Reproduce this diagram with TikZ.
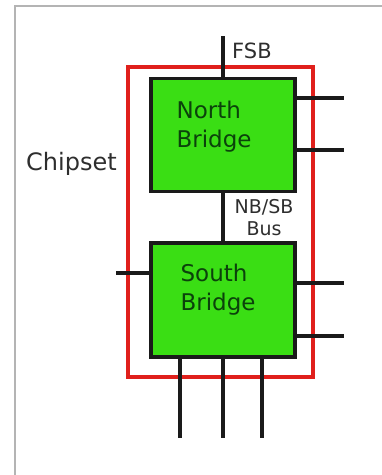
\documentclass[tikz,border=0pt]{standalone}
\usepackage{fontspec}
\setmainfont{DejaVu Sans}
\usepackage{tikz}
\usetikzlibrary{positioning}
\definecolor{chipred}{HTML}{E0201C}
\definecolor{bridgegreen}{HTML}{3ADE14}
\definecolor{bridgetext}{HTML}{0B420B}
\definecolor{wiregray}{HTML}{1A1A1A}
\definecolor{labelgray}{HTML}{2E2E2E}
\definecolor{framegray}{HTML}{B4B4B4}
\tikzset{
  bridgebox/.style={
    draw=wiregray, fill=bridgegreen, rectangle, line width=3.2pt,
    minimum width=144pt, minimum height=113pt, inner sep=0pt
  },
  bridgelabel/.style={
    align=left, inner sep=0pt, text=bridgetext,
    font=\fontsize{23}{29}\selectfont
  },
  chipbox/.style={
    draw=chipred, line width=3.4pt, rectangle, inner sep=0pt
  },
  wire/.style={line width=3.2pt, color=wiregray},
  buslabel/.style={text=labelgray, inner sep=0pt}
}

\begin{document}
\begin{tikzpicture}[x=1pt, y=-1pt]
\useasboundingbox (0,0) rectangle (382,475);
\draw[framegray, line width=1.5pt] (15,475) -- (15,6) -- (382,6);

\node[chipbox, minimum width=185pt, minimum height=310pt] (chipset) at (220.5,222) {};

\node[bridgebox] (north) at (223,135) {};
\node[bridgebox, minimum height=114pt] (south) at (223,300) {};
\node[bridgelabel, below right=24pt and 27pt of north.north west] (northtxt) {North\\Bridge};
\node[bridgelabel, below right=22pt and 31pt of south.north west] (southtxt) {South\\Bridge};

% free wire ends
\coordinate (fsb) at (223,36);
\coordinate (nbout1) at (344,98);
\coordinate (nbout2) at (344,150);
\coordinate (sbin) at (116,273);
\coordinate (sbout1) at (344,283);
\coordinate (sbout2) at (344,336);
\coordinate (sbdown1) at (180,438);
\coordinate (sbdown2) at (223,438);
\coordinate (sbdown3) at (262,438);

\draw[wire] (fsb) -- (north.north);
\draw[wire] (north.south) -- (south.north);
\draw[wire] (nbout1 -| north.east) -- (nbout1);
\draw[wire] (nbout2 -| north.east) -- (nbout2);
\draw[wire] (sbin) -- (sbin -| south.west);
\draw[wire] (sbout1 -| south.east) -- (sbout1);
\draw[wire] (sbout2 -| south.east) -- (sbout2);
\draw[wire] (sbdown1 |- south.south) -- (sbdown1);
\draw[wire] (south.south) -- (sbdown2);
\draw[wire] (sbdown3 |- south.south) -- (sbdown3);

\node[buslabel, anchor=base west, font=\fontsize{24}{28}\selectfont] (chiplabel) at (26,170) {Chipset};
\node[buslabel, anchor=base west, font=\fontsize{21}{25}\selectfont] (fsblabel) at (232,58) {FSB};
\node[buslabel, anchor=north, align=center, font=\fontsize{19}{22}\selectfont] (buslabel) at (264,199) {NB/SB\\Bus};
\end{tikzpicture}
\end{document}
